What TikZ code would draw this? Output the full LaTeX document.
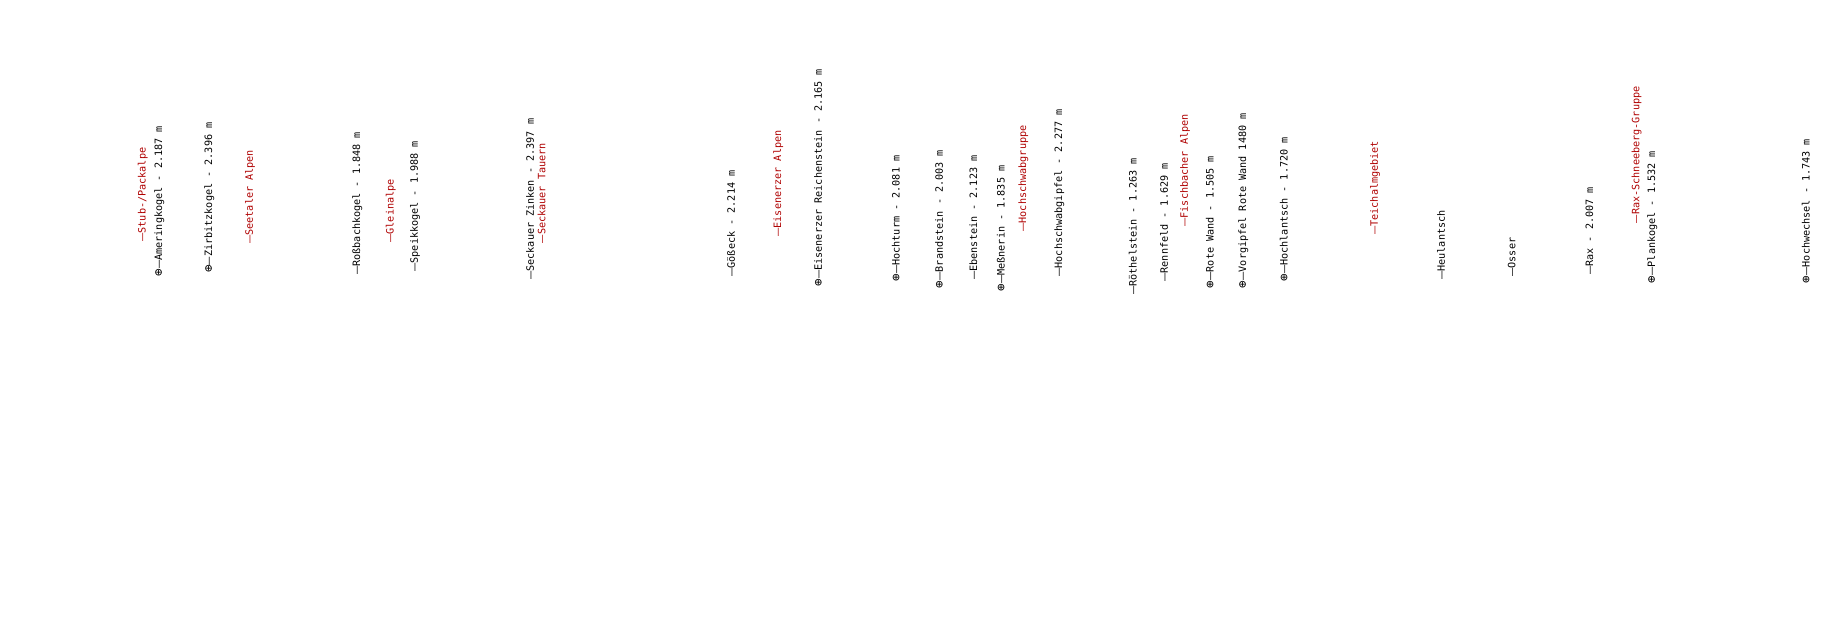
\documentclass[tikz,border=0pt]{standalone}
\usepackage{fontspec}
\usepackage{graphicx}
\newfontfamily\labmono{DejaVu Sans Mono}
\definecolor{grpred}{RGB}{175,0,0}
\newcommand{\ldash}{\scalebox{1.35}[1]{—}}
\newcommand{\peak}{\raisebox{-0.05em}{\scalebox{1.25}{⊕}}}
\tikzset{
  lbl/.style={rotate=90, anchor=west, inner sep=0pt, font=\labmono\fontsize{10.15}{12}\selectfont, text=black},
  grp/.style={lbl, text=grpred}
}
\begin{document}
\begin{tikzpicture}[x=1pt,y=1pt]
\useasboundingbox (0,0) rectangle (1836,-620);
\node[grp] (g1) at (142.7,-241.7) {\ldash Stub-/Packalpe};
\node[lbl] (p1) at (159.3,-276.7) {\peak\ldash Ameringkogel - 2.187 m};
\node[lbl] (p2) at (209.3,-273) {\peak\ldash Zirbitzkogel - 2.396 m};
\node[grp] (g2) at (250,-244) {\ldash Seetaler Alpen};
\node[lbl] (p3) at (357.3,-275) {\ldash Roßbachkogel - 1.848 m};
\node[grp] (g3) at (390.7,-242.7) {\ldash Gleinalpe};
\node[lbl] (p4) at (415,-271.7) {\ldash Speikkogel - 1.988 m};
\node[lbl] (p5) at (530,-280) {\ldash Seckauer Zinken - 2.397 m};
\node[grp] (g4) at (541.7,-243.3) {\ldash Seckauer Tauern};
\node[lbl] (p6) at (731,-276.7) {\ldash Gößeck - 2.214 m};
\node[grp] (g5) at (778.3,-236.7) {\ldash Eisenerzer Alpen};
\node[lbl] (p7) at (818.3,-286.7) {\peak\ldash Eisenerzer Reichenstein - 2.165 m};
\node[lbl] (p8) at (896,-281.7) {\peak\ldash Hochturm - 2.081 m};
\node[lbl] (p9) at (939.3,-288.3) {\peak\ldash Brandstein - 2.003 m};
\node[lbl] (p10) at (973.3,-280) {\ldash Ebenstein - 2.123 m};
\node[lbl] (p11) at (1001,-291.7) {\peak\ldash Meßnerin - 1.835 m};
\node[grp] (g6) at (1023.3,-231.7) {\ldash Hochschwabgruppe};
\node[lbl] (p12) at (1059.3,-276.7) {\ldash Hochschwabgipfel - 2.277 m};
\node[lbl] (p13) at (1132.7,-295) {\ldash Röthelstein - 1.263 m};
\node[lbl] (p14) at (1164,-281.7) {\ldash Rennfeld - 1.629 m};
\node[grp] (g7) at (1185,-226.7) {\ldash Fischbacher Alpen};
\node[lbl] (p15) at (1210,-288.3) {\peak\ldash Rote Wand - 1.505 m};
\node[lbl] (p16) at (1243.3,-288.3) {\peak\ldash Vorgipfel Rote Wand 1480 m};
\node[lbl] (p17) at (1284,-281.7) {\peak\ldash Hochlantsch - 1.720 m};
\node[grp] (g8) at (1375,-235) {\ldash Teichalmgebiet};
\node[lbl] (p18) at (1441,-280) {\ldash Heulantsch};
\node[lbl] (p19) at (1511.7,-276.7) {\ldash Osser};
\node[lbl] (p20) at (1589.3,-275) {\ldash Rax - 2.007 m};
\node[grp] (g9) at (1636.7,-223.3) {\ldash Rax-Schneeberg-Gruppe};
\node[lbl] (p21) at (1652.3,-283.3) {\peak\ldash Plankogel - 1.532 m};
\node[lbl] (p22) at (1806,-283.3) {\peak\ldash Hochwechsel - 1.743 m};
\end{tikzpicture}
\end{document}
